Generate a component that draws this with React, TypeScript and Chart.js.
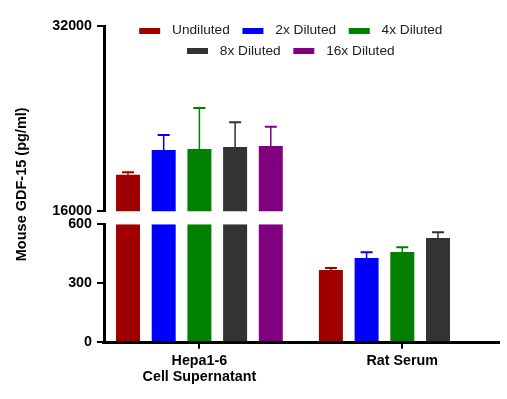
import React, { useEffect, useRef } from "react";
import { Chart, registerables } from "chart.js";

Chart.register(...registerables);

// ---------- data ----------
const CATEGORIES: (string | string[])[] = [["Hepa1-6", "Cell Supernatant"], "Rat Serum"];
const SERIES = ["Undiluted", "2x Diluted", "4x Diluted", "8x Diluted", "16x Diluted"];
const COLORS = ["#A00000", "#0000FF", "#008000", "#333333", "#800080"];

const UNDILUTED = [19180, 368];
const DILUTED_2X = [21310, 429];
const DILUTED_4X = [21400, 459];
const DILUTED_8X = [21570, 530];
const DILUTED_16X = [21660, null];

const ERR_UNDILUTED = [200, 10];
const ERR_2X = [1300, 29];
const ERR_4X = [3540, 24];
const ERR_8X = [2130, 29];
const ERR_16X = [1670, null];

const LOWER_TICKS = [0, 300, 600];
const UPPER_TICKS = [16000, 32000];
const Y_TITLE = "Mouse GDF-15 (pg/ml)";

const VALUES = [UNDILUTED, DILUTED_2X, DILUTED_4X, DILUTED_8X, DILUTED_16X];
const ERRORS = [ERR_UNDILUTED, ERR_2X, ERR_4X, ERR_8X, ERR_16X];

// ---------- styling ----------
const FONT = "'Liberation Sans', Arial, sans-serif";
const tickFont = { family: FONT, size: 14.3, weight: "bold" as const };

function makeSwatch(color: string) {
  const c = document.createElement("canvas");
  c.width = 32;
  c.height = 6;
  const g = c.getContext("2d")!;
  g.fillStyle = color;
  g.fillRect(6, 0, 21, 6);
  return c;
}

const segmentPlugin = {
  id: "segmentClipAndErrors",
  beforeDatasetDraw(chart: any, args: any) {
    const { ctx } = chart;
    const meta = args.meta;
    const xs = meta.xScale;
    const ys = meta.yScale;
    ctx.save();
    ctx.beginPath();
    ctx.rect(xs.left, ys.top, xs.right - xs.left, ys.bottom - ys.top);
    ctx.clip();
  },
  afterDatasetDraw(chart: any, args: any) {
    const { ctx } = chart;
    const meta = args.meta;
    const ds = chart.data.datasets[args.index];
    const ys = meta.yScale;
    meta.data.forEach((bar: any, j: number) => {
      const v = ds.data[j].y;
      const e = ds.errors ? ds.errors[j] : null;
      if (v == null || e == null) return;
      const yv = ys.getPixelForValue(v);
      const ye = ys.getPixelForValue(v + e);
      ctx.strokeStyle = ds.backgroundColor;
      ctx.lineWidth = 1.5;
      ctx.beginPath();
      ctx.moveTo(bar.x, yv);
      ctx.lineTo(bar.x, ye);
      ctx.stroke();
      ctx.lineWidth = 2;
      ctx.beginPath();
      ctx.moveTo(bar.x - 6, ye);
      ctx.lineTo(bar.x + 6, ye);
      ctx.stroke();
    });
    ctx.restore();
  },
};

const legendPlacePlugin = {
  id: "legendPlace",
  afterLayout(chart: any) {
    const lg = chart.legend;
    if (!lg) return;
    const center = 287.8;
    const w = 420;
    const top = 17.25;
    const h = 60;
    lg.left = center - w / 2;
    lg.right = center + w / 2;
    lg.width = w;
    lg.top = top;
    lg.bottom = top + h;
    lg.height = h;
  },
};

const yTitlePlugin = {
  id: "yTitle",
  afterDraw(chart: any) {
    const { ctx, chartArea } = chart;
    ctx.save();
    ctx.translate(21.7, (chartArea.top + chartArea.bottom) / 2);
    ctx.rotate(-Math.PI / 2);
    ctx.font = `bold 14.5px ${FONT}`;
    ctx.fillStyle = "#000";
    ctx.textAlign = "center";
    ctx.textBaseline = "middle";
    ctx.fillText(Y_TITLE, 0, 0);
    ctx.restore();
  },
};

export default function App() {
  const ref = useRef<HTMLCanvasElement>(null);

  useEffect(() => {
    const canvas = ref.current;
    if (!canvas) return;

    const swatches = COLORS.map(makeSwatch);
    const datasets: any[] = [];
    ["yLow", "yHigh"].forEach((axisId) => {
      SERIES.forEach((name, s) => {
        datasets.push({
          label: name,
          data: VALUES[s].map((v, i) => ({ x: i, y: v })),
          errors: ERRORS[s],
          yAxisID: axisId,
          stack: name,
          backgroundColor: COLORS[s],
          borderWidth: 0,
          categoryPercentage: 0.8797,
          barPercentage: 0.672,
        });
      });
    });

    const axisCommon = {
      type: "linear" as const,
      position: "left" as const,
      stack: "y",
      stacked: false,
      afterFit: (s: any) => {
        s.width = 52;
      },
    };

    const chart = new Chart(canvas, {
      type: "bar",
      data: { datasets },
      options: {
        responsive: false,
        animation: false,
        devicePixelRatio: 1,
        layout: { padding: { top: 25.3, left: 52, right: 8, bottom: 10.2 } },
        plugins: {
          tooltip: { enabled: false },
          legend: {
            display: true,
            position: "top",
            fullSize: false,
            maxHeight: 1,
            align: "center",
            labels: {
              usePointStyle: true,
              pointStyleWidth: 32,
              boxHeight: 6,
              padding: 6.6,
              color: "#222",
              font: { family: FONT, size: 13.7 },
              generateLabels: (ch: any) =>
                ch.data.datasets
                  .map((ds: any, i: number) => ({ ds, i }))
                  .filter((o: any) => o.ds.yAxisID === "yLow")
                  .map((o: any, k: number) => ({
                    text: o.ds.label,
                    fillStyle: o.ds.backgroundColor,
                    strokeStyle: o.ds.backgroundColor,
                    lineWidth: 0,
                    pointStyle: swatches[k],
                    hidden: false,
                    datasetIndex: o.i,
                    fontColor: "#222",
                  })),
            },
          },
        },
        scales: {
          x: {
            type: "linear",
            position: "bottom",
            min: -0.4702,
            max: 1.4766,
            offset: false,
            z: 1,
            afterBuildTicks: (s: any) => {
              s.ticks = CATEGORIES.map((_, i) => ({ value: i }));
            },
            ticks: {
              callback: (v: any) => CATEGORIES[v] as any,
              font: { ...tickFont, lineHeight: 1.12 },
              color: "#000",
              padding: 4,
              maxRotation: 0,
              autoSkip: false,
            },
            grid: {
              display: true,
              offset: false,
              drawOnChartArea: false,
              drawTicks: true,
              tickLength: 6.5,
              lineWidth: 2,
              color: "#000",
            },
            border: { display: true, width: 3, color: "#000" },
          },
          yLow: {
            ...axisCommon,
            stackWeight: 118,
            min: LOWER_TICKS[0],
            max: LOWER_TICKS[LOWER_TICKS.length - 1],
            afterBuildTicks: (s: any) => {
              s.ticks = LOWER_TICKS.map((v) => ({ value: v }));
            },
            ticks: { callback: (v: any) => String(v), font: tickFont, color: "#000", padding: 5 },
            grid: { display: true, drawOnChartArea: false, drawTicks: true, tickLength: 7, lineWidth: 2, color: "#000" },
            border: { display: true, width: 3, color: "#000" },
          },
          yGap: {
            ...axisCommon,
            stackWeight: 12.8,
            min: 0,
            max: 1,
            ticks: { display: false },
            grid: { display: false },
            border: { display: false },
          },
          yHigh: {
            ...axisCommon,
            stackWeight: 185.2,
            min: UPPER_TICKS[0],
            max: UPPER_TICKS[UPPER_TICKS.length - 1],
            afterBuildTicks: (s: any) => {
              s.ticks = UPPER_TICKS.map((v) => ({ value: v }));
            },
            ticks: { callback: (v: any) => String(v), font: tickFont, color: "#000", padding: 5 },
            grid: { display: true, drawOnChartArea: false, drawTicks: true, tickLength: 7, lineWidth: 2, color: "#000" },
            border: { display: true, width: 3, color: "#000" },
          },
        } as any,
      },
      plugins: [segmentPlugin, legendPlacePlugin, yTitlePlugin],
    } as any);

    return () => chart.destroy();
  }, []);

  return (
    <div style={{ position: "absolute", left: 0, top: 0, width: 507, height: 399, background: "#fff" }}>
      <canvas ref={ref} width={507} height={399} style={{ display: "block", width: 507, height: 399 }} />
    </div>
  );
}
